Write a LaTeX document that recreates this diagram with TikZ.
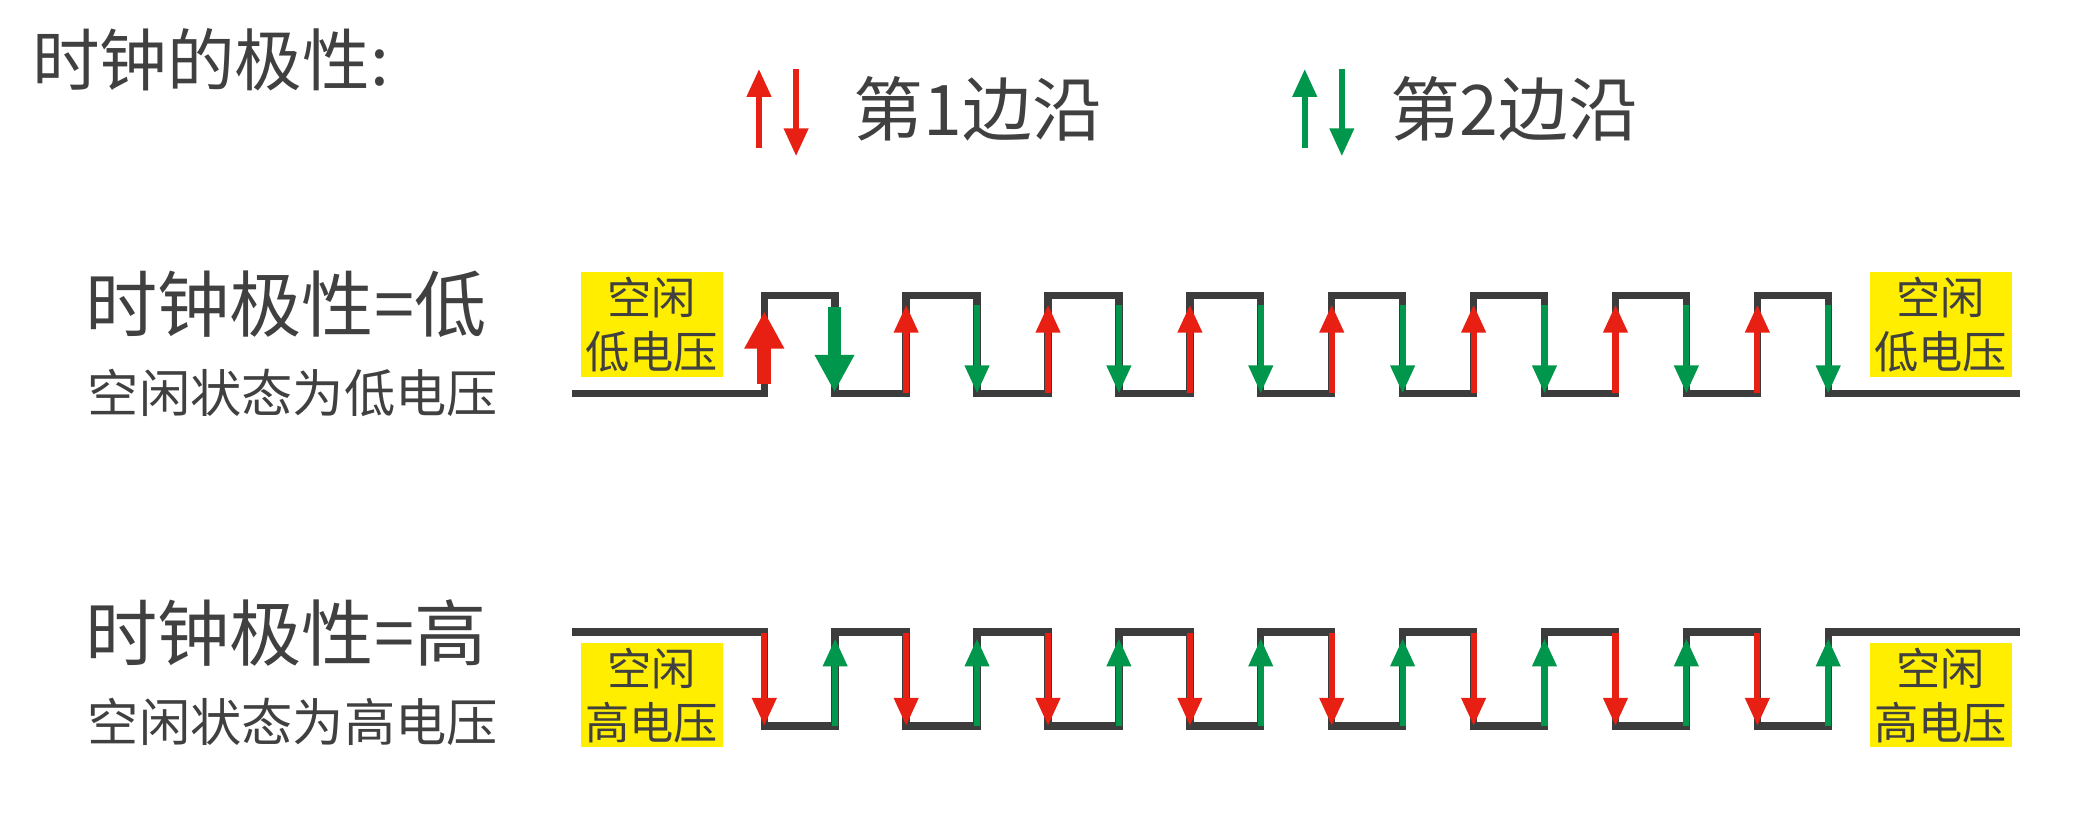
\documentclass[tikz,border=0pt]{standalone}
\usepackage{fontspec}
\setmainfont{Noto Sans CJK SC}
\usetikzlibrary{arrows.meta}
\definecolor{edgered}{RGB}{232,32,20}
\definecolor{edgegreen}{RGB}{0,150,75}
\definecolor{wire}{RGB}{60,60,60}
\definecolor{txt}{RGB}{64,64,64}
\definecolor{hl}{RGB}{255,238,0}
\def\per{107.1}
\def\hp{53.5}

\begin{document}
\begin{tikzpicture}[x=0.01cm,y=-0.01cm,
    wave/.style={wire,line width=1.6pt},
    up/.style={#1,line width=1.3pt,-{Triangle[length=6pt,width=5pt]}},
    down/.style={#1,line width=1.3pt,-{Triangle[length=6pt,width=5pt]}},
    bigup/.style={#1,line width=3pt,-{Triangle[length=8pt,width=8pt]}},
    idle/.style={fill=hl,inner sep=1pt,align=center,font=\fontsize{9.5}{11.5}\selectfont,text=txt},
    title/.style={text=txt,font=\fontsize{15.5}{18}\selectfont,anchor=west},
    sub/.style={text=txt,font=\fontsize{11}{13}\selectfont,anchor=west}
  ]
  \useasboundingbox (0,0) rectangle (1568,631);

  % title and legend
  \node[title,font=\fontsize{14.5}{17}\selectfont] (head) at (12,45) {时钟的极性:};
  \draw[up=edgered] (573,112) -- (573,52);
  \draw[down=edgered] (601,52) -- (601,118);
  \node[title,font=\fontsize{15}{17}\selectfont] (first) at (632,82) {第1边沿};
  \draw[up=edgegreen] (985,112) -- (985,52);
  \draw[down=edgegreen] (1013,52) -- (1013,118);
  \node[title,font=\fontsize{15}{17}\selectfont] (second) at (1037,82) {第2边沿};

  % polarity low
  \node[title] (lowname) at (52,230) {时钟极性=低};
  \node[sub] (lowdesc) at (54,297) {空闲状态为低电压};
  \draw[wave] (432,297) -- (577,297)
    \foreach \k in {0,...,7} {
      -- ({577+\k*\per},297) -- ({577+\k*\per},223) -- ({577+\k*\per+\hp},223) -- ({577+\k*\per+\hp},297)
    } -- (1525,297);
  \draw[bigup=edgered] (577,290) -- (577,235);
  \draw[bigup=edgegreen] (630,232) -- (630,296);
  \foreach \k in {1,...,7} {
    \draw[up=edgered] ({577+\k*\per},297) -- ({577+\k*\per},230);
    \draw[down=edgegreen] ({577+\k*\per+\hp},230) -- ({577+\k*\per+\hp},297);
  }
  \node[idle] (lowidlel) at (492,245) {空闲\\低电压};
  \node[idle] (lowidler) at (1465,245) {空闲\\低电压};

  % polarity high
  \node[title] (highname) at (52,478) {时钟极性=高};
  \node[sub] (highdesc) at (54,545) {空闲状态为高电压};
  \draw[wave] (432,477) -- (577,477)
    \foreach \k in {0,...,7} {
      -- ({577+\k*\per},477) -- ({577+\k*\per},548) -- ({577+\k*\per+\hp},548) -- ({577+\k*\per+\hp},477)
    } -- (1525,477);
  \foreach \k in {0,...,7} {
    \draw[down=edgered] ({577+\k*\per},478) -- ({577+\k*\per},548);
    \draw[up=edgegreen] ({577+\k*\per+\hp},548) -- ({577+\k*\per+\hp},482);
  }
  \node[idle] (highidlel) at (492,525) {空闲\\高电压};
  \node[idle] (highidler) at (1465,525) {空闲\\高电压};
\end{tikzpicture}
\end{document}
